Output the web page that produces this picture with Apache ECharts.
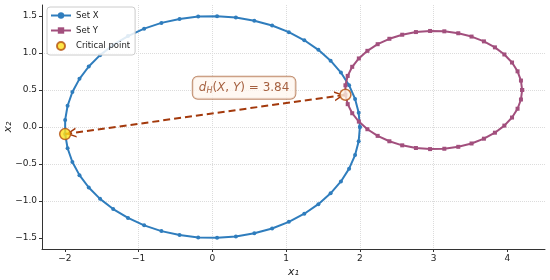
<!DOCTYPE html>
<html>
<head>
<meta charset="utf-8">
<script src="https://cdn.jsdelivr.net/npm/echarts@6/dist/echarts.min.js"></script>
<style>
html,body{margin:0;padding:0;background:#fff;}
#main{width:550px;height:280px;}
</style>
</head>
<body>
<div id="main"></div>
<script>
// ellipse X (50 samples)
var setX = [
  [2.000,0.000],[1.984,0.192],[1.935,0.380],[1.854,0.563],[1.743,0.736],
  [1.603,0.897],[1.437,1.044],[1.247,1.173],[1.037,1.283],[0.810,1.372],
  [0.569,1.438],[0.319,1.481],[0.064,1.499],[-0.192,1.493],[-0.445,1.462],
  [-0.691,1.408],[-0.925,1.330],[-1.144,1.230],[-1.345,1.110],[-1.523,0.972],
  [-1.676,0.818],[-1.802,0.651],[-1.898,0.473],[-1.963,0.287],[-1.996,0.096],
  [-1.996,-0.096],[-1.963,-0.287],[-1.898,-0.473],[-1.802,-0.651],[-1.676,-0.818],
  [-1.523,-0.972],[-1.345,-1.110],[-1.144,-1.230],[-0.925,-1.330],[-0.691,-1.408],
  [-0.445,-1.462],[-0.192,-1.493],[0.064,-1.499],[0.319,-1.481],[0.569,-1.438],
  [0.810,-1.372],[1.037,-1.283],[1.247,-1.173],[1.437,-1.044],[1.603,-0.897],
  [1.743,-0.736],[1.854,-0.563],[1.935,-0.380],[1.984,-0.192],[2.000,0.000]
];
// ellipse Y (40 samples)
var setY = [
  [4.200,0.500],[4.184,0.628],[4.138,0.753],[4.063,0.872],[3.959,0.981],
  [3.831,1.077],[3.682,1.158],[3.514,1.223],[3.334,1.268],[3.145,1.294],
  [2.952,1.299],[2.760,1.284],[2.574,1.248],[2.400,1.193],[2.241,1.120],
  [2.102,1.030],[1.986,0.927],[1.896,0.814],[1.835,0.691],[1.804,0.564],
  [1.804,0.436],[1.835,0.309],[1.896,0.186],[1.986,0.073],[2.102,-0.030],
  [2.241,-0.120],[2.400,-0.193],[2.574,-0.248],[2.760,-0.284],[2.952,-0.299],
  [3.145,-0.294],[3.334,-0.268],[3.514,-0.223],[3.682,-0.158],[3.831,-0.077],
  [3.959,0.019],[4.063,0.128],[4.138,0.247],[4.184,0.372],[4.200,0.500]
];
var critical = [[-1.996,-0.096],[1.804,0.436]];
var hausdorff = 3.84;
var notePos = [0.43,0.53];
var xTicks = [-2,-1,0,1,2,3,4];
var yTicks = [-1.5,-1,-0.5,0,0.5,1,1.5];

var blue = '#2f7dbd', purple = '#a24f7d', brown = '#a3390c';
var font = 'DejaVu Sans';
var chev = 'path://M0,10 L5,0 L10,10 L8.4,10 L5,3.2 L1.6,10 Z';

function fmtX(v){ return (v<0?'\u2212':'')+Math.abs(v); }
function fmtY(v){ return (v<0?'\u2212':'')+Math.abs(v).toFixed(1); }

var myChart = echarts.init(document.getElementById('main'));
var option = {
  animation:false,
  textStyle:{fontFamily:font},
  grid:{left:42,right:5,top:5,bottom:31,containLabel:false,outerBoundsMode:'none'},
  legend:{
    orient:'vertical', left:47, top:7,
    data:['Set X','Set Y','Critical point'],
    backgroundColor:'rgba(255,255,255,0.85)',
    borderColor:'#cccccc', borderWidth:1, borderRadius:3,
    padding:[4,5,4,3], itemGap:6, itemWidth:20, itemHeight:8,
    textStyle:{fontFamily:font,fontSize:8.5,color:'#222'}
  },
  xAxis:{
    type:'value', min:-2.31, max:4.51,
    name:'x\u2081', nameLocation:'middle', nameGap:18, nameMoveOverlap:false,
    nameTextStyle:{fontFamily:font,fontSize:11,fontStyle:'italic',color:'#222'},
    axisLine:{onZero:false,lineStyle:{color:'#333',width:1}},
    axisTick:{length:3,lineStyle:{color:'#333'},customValues:xTicks},
    axisLabel:{fontSize:9,color:'#222',margin:5,customValues:xTicks,formatter:fmtX},
    splitLine:{show:true,showMinLine:false,showMaxLine:false,lineStyle:{color:'#dcdcdc',type:'dotted',width:1}}
  },
  yAxis:{
    type:'value', min:-1.65, max:1.65,
    name:'x\u2082', nameLocation:'middle', nameGap:28, nameRotate:90, nameMoveOverlap:false,
    nameTextStyle:{fontFamily:font,fontSize:11,fontStyle:'italic',color:'#222'},
    axisLine:{show:true,onZero:false,lineStyle:{color:'#333',width:1}},
    axisTick:{show:true,length:3,lineStyle:{color:'#333'},customValues:yTicks},
    axisLabel:{fontSize:9,color:'#222',margin:5,customValues:yTicks,formatter:fmtY},
    splitLine:{show:true,showMinLine:false,showMaxLine:false,lineStyle:{color:'#dcdcdc',type:'dotted',width:1}}
  },
  series:[
    {
      name:'Set X', type:'line', data:setX, showSymbol:true,
      symbol:'circle', symbolSize:4,
      lineStyle:{color:blue,width:2}, itemStyle:{color:blue}, z:2
    },
    {
      name:'Set Y', type:'line', data:setY, showSymbol:true,
      symbol:'rect', symbolSize:4,
      lineStyle:{color:purple,width:2}, itemStyle:{color:purple}, z:3
    },
    {
      name:'Critical point', type:'scatter', symbolSize:11, z:5,
      itemStyle:{color:'#ffe11a',borderColor:'#b4500f',borderWidth:1.5},
      data:critical.map(function(p,i){
        return i===0 ? p : {value:p,itemStyle:{color:'#fff1df'}};
      }),
      markLine:{
        silent:true, z:4,
        symbol:[chev,chev], symbolSize:[10,10], symbolOffset:[[0,6],[0,6]],
        lineStyle:{color:brown,width:2,type:[7,4]},
        label:{show:false},
        data:[[{coord:critical[0]},{coord:critical[1]}]]
      }
    },
    {
      name:'note', type:'scatter', symbolSize:0, z:6, silent:true,
      data:[notePos],
      label:{
        show:true, position:'inside',
        backgroundColor:'rgba(255,246,238,0.95)', borderColor:'#b0704a', borderWidth:1,
        borderRadius:5, padding:[4,6,4,6],
        formatter:'{i|d}{s|H}{n|(}{i|X}{n|, }{i|Y}{n|) = '+hausdorff.toFixed(2)+'}',
        rich:{
          i:{fontFamily:font,fontSize:12,fontStyle:'italic',color:'#8e3a12'},
          s:{fontFamily:font,fontSize:8,fontStyle:'italic',color:'#8e3a12',verticalAlign:'bottom',padding:[6,0,0,0]},
          n:{fontFamily:font,fontSize:12,color:'#8e3a12'}
        }
      }
    }
  ]
};
myChart.setOption(option);
</script>
</body>
</html>
